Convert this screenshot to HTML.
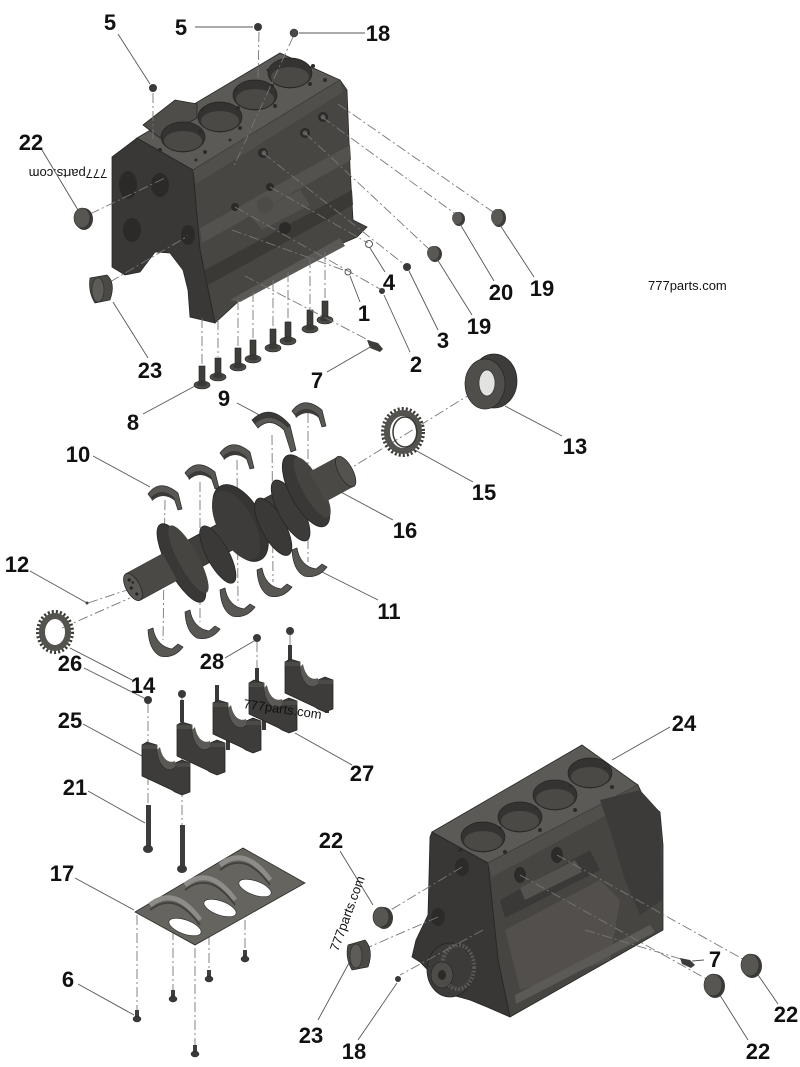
<!DOCTYPE html>
<html><head><meta charset="utf-8"><style>
html,body{margin:0;padding:0;background:#fff;}
svg{display:block;}
.l{font-family:"Liberation Sans",sans-serif;font-weight:bold;font-size:22px;fill:#111;text-anchor:middle;}
.w{font-family:"Liberation Sans",sans-serif;font-size:13px;fill:#111;}
.ld{stroke:#555;stroke-width:0.9;fill:none;}
.dd{stroke:#777;stroke-width:0.9;fill:none;stroke-dasharray:10 3 2 3;}
.e{stroke:#262624;stroke-width:0.8;}
</style></head><body>
<svg width="800" height="1067" viewBox="0 0 800 1067" xmlns="http://www.w3.org/2000/svg">
<defs>
<g id="cap">
<path d="M0,3 L5,0 L15,3 L15,8 C17,26 27,31 33,25 L33,21 L40,18 L48,21 L48,50 L40,53 L33,50 L30,48 L0,34 Z" fill="#3d3c3a" stroke="#242422" stroke-width="0.8"/>
<path d="M15,8 C17,26 27,31 33,25 L33,19 C26,22 20,16 18,5 Z" fill="#5b5955"/>
<rect x="0" y="3" width="15" height="4" fill="#4b4a47"/>
<rect x="33" y="21" width="15" height="4" fill="#4b4a47"/>
</g>
<g id="ush">
<path d="M0,11 Q12,-5 30,10 L34,26 L30,27 L26,15 Q14,4 3,15 Z" fill="#595753" stroke="#2a2a28" stroke-width="0.7"/>
<path d="M3,15 Q14,4 26,15 L27,18 Q15,8 4,18 Z" fill="#3c3b39"/>
</g>
<g id="lsh">
<path d="M0,2 L5,0 Q8,18 24,21 L30,16 L35,19 Q26,31 12,28 Q1,22 0,2 Z" fill="#595753" stroke="#2a2a28" stroke-width="0.7"/>
</g>
<g id="bolt">
<rect x="-3" y="-20" width="6" height="18" fill="#3f3e3b" stroke="#222" stroke-width="0.6"/>
<ellipse cx="0" cy="-1" rx="8" ry="4" fill="#4d4c48" stroke="#222" stroke-width="0.6"/>
<ellipse cx="0" cy="-2" rx="5" ry="2.5" fill="#3a3937"/>
</g>
<g id="sb">
<rect x="-2" y="-10" width="4" height="9" fill="#3f3e3b"/>
<ellipse cx="0" cy="-1" rx="4" ry="3" fill="#3a3937" stroke="#222" stroke-width="0.5"/>
</g>
</defs>

<!-- ============ TOP BLOCK ============ -->
<polygon class="e" points="193,170 340,80 347,90 350,167 353,220 367,227 357,237 320,253 240,300 215,323 200,250" fill="#474643"/>
<polygon class="e" points="112,157 137,138 193,170 200,250 215,323 190,317 188,290 183,270 170,253 155,252 140,272 125,275 112,267" fill="#393836"/>
<polygon class="e" points="137,138 280,53 340,80 193,170" fill="#5b5a56"/>
<polygon points="193,170 340,80 343,92 196,184" fill="#504f4b"/>
<polygon points="143,125 175,100 197,104 197,118 160,138" fill="#4e4d49" class="e"/>
<polygon points="200,228 350,145 351,160 202,243" fill="#53524e"/>
<polygon points="205,270 352,190 353,205 208,285" fill="#3a3936"/>
<polygon points="230,300 340,238 345,246 240,302" fill="#5a5955"/>
<polygon points="250,215 300,190 310,205 262,230" fill="#52514d"/>
<ellipse cx="183" cy="137" rx="22" ry="15" fill="#343331" stroke="#222" stroke-width="0.7"/>
<ellipse cx="183" cy="141" rx="19" ry="10" fill="#4a4946"/>
<ellipse cx="220" cy="117" rx="22" ry="15" fill="#343331" stroke="#222" stroke-width="0.7"/>
<ellipse cx="220" cy="121" rx="19" ry="10" fill="#4a4946"/>
<ellipse cx="255" cy="95" rx="22" ry="15" fill="#343331" stroke="#222" stroke-width="0.7"/>
<ellipse cx="255" cy="99" rx="19" ry="10" fill="#4a4946"/>
<ellipse cx="290" cy="73" rx="22" ry="15" fill="#343331" stroke="#222" stroke-width="0.7"/>
<ellipse cx="290" cy="77" rx="19" ry="10" fill="#4a4946"/>
<g fill="#2c2b29">
<circle cx="160" cy="150" r="2"/><circle cx="205" cy="152" r="2"/><circle cx="200" cy="132" r="2"/><circle cx="238" cy="108" r="2"/><circle cx="240" cy="128" r="2"/><circle cx="272" cy="86" r="2"/><circle cx="275" cy="106" r="2"/><circle cx="310" cy="84" r="2"/><circle cx="313" cy="66" r="2"/><circle cx="202" cy="110" r="1.5"/><circle cx="236" cy="90" r="1.5"/><circle cx="268" cy="70" r="1.5"/><circle cx="325" cy="80" r="2"/><circle cx="196" cy="160" r="1.5"/><circle cx="230" cy="140" r="1.5"/>
</g>
<g fill="#2b2a28">
<ellipse cx="160" cy="185" rx="9" ry="12"/><ellipse cx="128" cy="185" rx="9" ry="14"/><ellipse cx="132" cy="230" rx="9" ry="12"/><ellipse cx="188" cy="235" rx="7" ry="10"/>
<circle cx="323" cy="117" r="5"/><circle cx="305" cy="133" r="5"/><circle cx="263" cy="153" r="5"/><circle cx="270" cy="187" r="4"/><circle cx="235" cy="207" r="4"/><circle cx="285" cy="228" r="6"/>
</g>
<g fill="#5c5b57"><circle cx="264" cy="153" r="2.5"/><circle cx="305" cy="133" r="2.5"/><circle cx="323" cy="117" r="2.5"/><circle cx="265" cy="205" r="8" fill="#4c4b47"/></g>

<!-- top block bolts -->
<g class="dd">
<line x1="202" y1="318" x2="202" y2="365"/><line x1="218" y1="320" x2="218" y2="357"/>
<line x1="238" y1="300" x2="238" y2="347"/><line x1="253" y1="292" x2="253" y2="339"/>
<line x1="273" y1="280" x2="273" y2="328"/><line x1="288" y1="272" x2="288" y2="322"/>
<line x1="310" y1="258" x2="310" y2="309"/><line x1="325" y1="252" x2="325" y2="300"/>
</g>
<use href="#bolt" x="202" y="386"/><use href="#bolt" x="218" y="378"/>
<use href="#bolt" x="238" y="368"/><use href="#bolt" x="253" y="360"/>
<use href="#bolt" x="273" y="349"/><use href="#bolt" x="288" y="342"/>
<use href="#bolt" x="310" y="330"/><use href="#bolt" x="325" y="321"/>

<!-- top plugs and leaders -->
<g class="dd">
<line x1="153" y1="93" x2="153" y2="142"/>
<line x1="259" y1="32" x2="258" y2="80"/>
<line x1="293" y1="37" x2="234" y2="166"/>
<line x1="90" y1="214" x2="165" y2="178"/>
<line x1="110" y1="282" x2="188" y2="236"/>
<line x1="322" y1="117" x2="457" y2="215"/>
<line x1="338" y1="104" x2="493" y2="212"/>
<line x1="305" y1="133" x2="430" y2="250"/>
<line x1="263" y1="153" x2="405" y2="265"/>
<line x1="270" y1="187" x2="368" y2="243"/>
<line x1="235" y1="207" x2="380" y2="289"/>
<line x1="232" y1="230" x2="346" y2="271"/>
<line x1="245" y1="276" x2="372" y2="342"/>
</g>
<circle cx="153" cy="88" r="4" fill="#3a3937"/>
<circle cx="258" cy="27" r="4" fill="#3a3937"/>
<circle cx="294" cy="33" r="4" fill="#4a4946" stroke="#222" stroke-width="0.5"/>
<ellipse cx="84" cy="219" rx="9" ry="11" fill="#3b3a38"/>
<ellipse cx="82" cy="218" rx="8" ry="10" fill="#585652" stroke="#2a2a28" stroke-width="0.6"/>
<path d="M90,278 L107,275 Q116,283 110,300 L95,303 Q88,292 90,278 Z" fill="#4a4946" stroke="#262624" stroke-width="0.7"/>
<ellipse cx="98" cy="290" rx="6" ry="12" fill="#5e5c58" stroke="#2a2a28" stroke-width="0.6"/>
<ellipse cx="459" cy="219" rx="6" ry="7" fill="#3d3c3a"/><ellipse cx="457" cy="218" rx="5" ry="6" fill="#5a5854"/>
<ellipse cx="499" cy="218" rx="7" ry="9" fill="#3d3c3a"/><ellipse cx="497" cy="217" rx="6" ry="8" fill="#5a5854"/>
<ellipse cx="435" cy="254" rx="7" ry="8" fill="#3d3c3a"/><ellipse cx="433" cy="253" rx="6" ry="7" fill="#5a5854"/>
<circle cx="407" cy="267" r="4" fill="#3a3937"/>
<circle cx="382" cy="291" r="3" fill="#3a3937"/>
<circle cx="369" cy="244" r="3.5" fill="none" stroke="#555" stroke-width="1"/>
<circle cx="348" cy="272" r="3" fill="none" stroke="#555" stroke-width="1"/>
<path d="M367,340 L378,343 L383,349 L380,352 L370,348 Z" fill="#3d3c3a"/>
<g class="ld">
<line x1="118" y1="34" x2="150" y2="84"/>
<line x1="195" y1="27" x2="253" y2="27"/>
<line x1="299" y1="33" x2="365" y2="33"/>
<line x1="42" y1="150" x2="78" y2="210"/>
<line x1="113" y1="302" x2="148" y2="358"/>
<line x1="460" y1="224" x2="494" y2="281"/>
<line x1="500" y1="225" x2="534" y2="277"/>
<line x1="437" y1="259" x2="472" y2="315"/>
<line x1="409" y1="271" x2="438" y2="330"/>
<line x1="370" y1="248" x2="385" y2="272"/>
<line x1="384" y1="295" x2="410" y2="352"/>
<line x1="350" y1="276" x2="360" y2="302"/>
<line x1="372" y1="346" x2="327" y2="372"/>
<line x1="195" y1="386" x2="143" y2="414"/>
<line x1="237" y1="403" x2="265" y2="418"/>
<line x1="505" y1="406" x2="562" y2="436"/>
<line x1="415" y1="450" x2="473" y2="482"/>
<line x1="93" y1="456" x2="150" y2="487"/>
<line x1="337" y1="490" x2="393" y2="520"/>
<line x1="30" y1="571" x2="87" y2="603"/>
<line x1="322" y1="572" x2="378" y2="600"/>
<line x1="84" y1="668" x2="146" y2="699"/>
<line x1="70" y1="648" x2="132" y2="680"/>
<line x1="225" y1="658" x2="254" y2="641"/>
<line x1="83" y1="724" x2="142" y2="756"/>
<line x1="295" y1="733" x2="352" y2="765"/>
<line x1="88" y1="791" x2="145" y2="823"/>
<line x1="670" y1="727" x2="612" y2="760"/>
<line x1="75" y1="878" x2="134" y2="910"/>
<line x1="340" y1="851" x2="373" y2="905"/>
<line x1="78" y1="984" x2="134" y2="1015"/>
<line x1="318" y1="1020" x2="349" y2="963"/>
<line x1="358" y1="1040" x2="397" y2="983"/>
<line x1="692" y1="961" x2="704" y2="960"/>
<line x1="756" y1="972" x2="778" y2="1004"/>
<line x1="718" y1="992" x2="748" y2="1040"/>
</g>

<!-- ============ CRANK AREA ============ -->
<g class="dd">
<line x1="343" y1="473" x2="490" y2="382"/>
<line x1="88" y1="603" x2="130" y2="589"/>
<line x1="62" y1="628" x2="130" y2="598"/>
<line x1="165" y1="500" x2="163" y2="640"/>
<line x1="200" y1="482" x2="200" y2="622"/>
<line x1="237" y1="460" x2="238" y2="602"/>
<line x1="272" y1="435" x2="273" y2="582"/>
<line x1="308" y1="413" x2="308" y2="562"/>
</g>
<use href="#ush" x="148" y="483"/>
<use href="#ush" x="185" y="462"/>
<use href="#ush" x="220" y="442"/>
<use href="#ush" x="292" y="400"/>
<path d="M252,420 Q270,402 290,425 L296,450 L291,452 L284,430 Q270,416 258,428 Z" fill="#5b5955" stroke="#2a2a28" stroke-width="0.7"/>
<path d="M252,420 Q270,402 290,425 L288,428 Q270,410 255,424 Z" fill="#3a3937"/>

<g transform="translate(133,587) rotate(-28.5)">
<rect x="0" y="-15" width="240" height="30" fill="#403f3c" stroke="#262624" stroke-width="0.8"/>
<ellipse cx="54" cy="2" rx="14" ry="44" fill="#393836" stroke="#252523" stroke-width="0.8"/>
<ellipse cx="62" cy="2" rx="10" ry="38" fill="#464542"/>
<ellipse cx="90" cy="12" rx="11" ry="32" fill="#3a3937" stroke="#252523" stroke-width="0.8"/>
<ellipse cx="125" cy="-5" rx="22" ry="42" fill="#363533" stroke="#252523" stroke-width="0.8"/>
<ellipse cx="120" cy="-5" rx="18" ry="38" fill="#3d3c3a"/>
<ellipse cx="152" cy="14" rx="12" ry="32" fill="#3a3937" stroke="#252523" stroke-width="0.8"/>
<ellipse cx="175" cy="8" rx="12" ry="34" fill="#3c3b39" stroke="#252523" stroke-width="0.8"/>
<ellipse cx="198" cy="-2" rx="16" ry="40" fill="#393836" stroke="#252523" stroke-width="0.8"/>
<ellipse cx="205" cy="-2" rx="10" ry="34" fill="#454441"/>
<rect x="210" y="-17" width="32" height="34" fill="#4a4946"/>
<ellipse cx="242" cy="0" rx="7" ry="17" fill="#55534f" stroke="#262624" stroke-width="0.7"/>
<rect x="0" y="-15" width="42" height="30" fill="#4a4946"/>
<ellipse cx="0" cy="0" rx="7" ry="15" fill="#5a5854" stroke="#262624" stroke-width="0.8"/>
<circle cx="0" cy="-8" r="1.6" fill="#222"/><circle cx="0" cy="8" r="1.6" fill="#222"/><circle cx="-2" cy="0" r="1.6" fill="#222"/><circle cx="2" cy="-4" r="1.2" fill="#222"/>
</g>

<use href="#lsh" x="148" y="628"/>
<use href="#lsh" x="185" y="610"/>
<use href="#lsh" x="220" y="588"/>
<use href="#lsh" x="257" y="568"/>
<use href="#lsh" x="292" y="548"/>

<!-- gear 15 -->
<ellipse cx="403" cy="432" rx="20" ry="23" fill="none" stroke="#3b3a38" stroke-width="4" stroke-dasharray="2 2"/>
<ellipse cx="403" cy="432" rx="16" ry="19" fill="none" stroke="#55534f" stroke-width="6"/>
<ellipse cx="405" cy="432" rx="12" ry="15" fill="none" stroke="#3a3937" stroke-width="1.5"/>
<!-- seal 13 -->
<ellipse cx="494" cy="381" rx="23" ry="27" fill="#3d3c3a" stroke="#262624" stroke-width="0.7"/>
<ellipse cx="485" cy="384" rx="20" ry="25" fill="#4f4e4a" stroke="#262624" stroke-width="0.7"/>
<ellipse cx="487" cy="383" rx="8" ry="13" fill="#e2e2e0" stroke="#333" stroke-width="0.7"/>
<!-- gear 26 -->
<ellipse cx="55" cy="632" rx="17" ry="20" fill="none" stroke="#3b3a38" stroke-width="4" stroke-dasharray="2 2"/>
<ellipse cx="55" cy="632" rx="13" ry="16" fill="none" stroke="#55534f" stroke-width="6"/>
<circle cx="87" cy="603" r="1.5" fill="#444"/>

<!-- ============ CAPS ============ -->
<g class="dd">
<line x1="148" y1="703" x2="148" y2="835"/>
<line x1="182" y1="697" x2="182" y2="855"/>
<line x1="257" y1="642" x2="257" y2="678"/>
<line x1="290" y1="635" x2="290" y2="660"/>
</g>
<g fill="#3a3937">
<rect x="180" y="700" width="4" height="22"/><rect x="215" y="685" width="4" height="18"/>
<rect x="255" y="668" width="4" height="15"/><rect x="288" y="645" width="4" height="16"/>
<rect x="226" y="730" width="4" height="20"/><rect x="262" y="712" width="4" height="18"/><rect x="325" y="693" width="4" height="20"/>
</g>
<use href="#cap" x="285" y="659"/>
<use href="#cap" x="249" y="680"/>
<use href="#cap" x="213" y="700"/>
<use href="#cap" x="177" y="722"/>
<use href="#cap" x="142" y="742"/>
<circle cx="148" cy="700" r="4" fill="#3a3937"/>
<circle cx="182" cy="694" r="4" fill="#3a3937"/>
<circle cx="257" cy="638" r="4" fill="#3a3937"/>
<circle cx="290" cy="631" r="4" fill="#3a3937"/>
<rect x="146" y="805" width="5" height="42" fill="#3d3c3a"/>
<ellipse cx="148" cy="849" rx="5" ry="4" fill="#3a3937"/>
<rect x="180" y="825" width="5" height="42" fill="#3d3c3a"/>
<ellipse cx="182" cy="869" rx="5" ry="4" fill="#3a3937"/>

<!-- ============ OIL PAN 17 ============ -->
<g class="dd">
<line x1="137" y1="915" x2="137" y2="1010"/>
<line x1="173" y1="930" x2="173" y2="990"/>
<line x1="209" y1="935" x2="209" y2="970"/>
<line x1="245" y1="920" x2="245" y2="950"/>
<line x1="195" y1="948" x2="195" y2="1045"/>
</g>
<polygon points="135,912 243,848 305,883 195,945" fill="#66645f" stroke="#2a2a28" stroke-width="0.8"/>
<path d="M150,905 Q175,885 200,920 M185,885 Q210,865 235,900 M220,865 Q245,845 270,880" stroke="#8e8c88" stroke-width="5" fill="none"/>
<path d="M150,910 Q175,890 200,925 M185,890 Q210,870 235,905 M220,870 Q245,850 270,885" stroke="#43423f" stroke-width="2" fill="none"/>
<ellipse cx="185" cy="927" rx="17" ry="7" transform="rotate(20 185 927)" fill="#fff" stroke="#333" stroke-width="0.7"/>
<ellipse cx="220" cy="908" rx="17" ry="7" transform="rotate(20 220 908)" fill="#fff" stroke="#333" stroke-width="0.7"/>
<ellipse cx="255" cy="888" rx="17" ry="7" transform="rotate(20 255 888)" fill="#fff" stroke="#333" stroke-width="0.7"/>
<use href="#sb" x="137" y="1020"/><use href="#sb" x="173" y="1000"/>
<use href="#sb" x="209" y="980"/><use href="#sb" x="245" y="960"/>
<use href="#sb" x="195" y="1055"/>

<!-- ============ BOTTOM BLOCK ============ -->
<polygon class="e" points="488,863 638,785 645,800 660,812 663,845 663,930 510,1017 498,960" fill="#464542"/>
<polygon class="e" points="430,837 432,832 488,863 498,960 510,1017 487,1007 470,1000 452,995 420,962 412,957 416,940 428,915" fill="#383735"/>
<polygon class="e" points="432,832 582,745 638,785 488,863" fill="#5b5a56"/>
<polygon points="488,863 638,785 640,797 492,877" fill="#504f4b"/>
<polygon points="600,800 640,790 660,812 662,900 640,915 625,880 610,830" fill="#3c3b39"/>
<polygon points="505,930 600,880 620,900 610,960 520,990" fill="#524f4c"/>
<polygon points="500,900 590,850 600,870 505,918" fill="#3a3937"/>
<polygon points="515,995 650,925 655,932 516,1004" fill="#5c5a56"/>
<polygon points="520,888 575,860 582,872 525,900" fill="#55534f"/>
<ellipse cx="483" cy="837" rx="22" ry="15" fill="#343331" stroke="#222" stroke-width="0.7"/>
<ellipse cx="483" cy="841" rx="19" ry="10" fill="#4a4946"/>
<ellipse cx="520" cy="817" rx="22" ry="15" fill="#343331" stroke="#222" stroke-width="0.7"/>
<ellipse cx="520" cy="821" rx="19" ry="10" fill="#4a4946"/>
<ellipse cx="555" cy="795" rx="22" ry="15" fill="#343331" stroke="#222" stroke-width="0.7"/>
<ellipse cx="555" cy="799" rx="19" ry="10" fill="#4a4946"/>
<ellipse cx="590" cy="773" rx="22" ry="15" fill="#343331" stroke="#222" stroke-width="0.7"/>
<ellipse cx="590" cy="777" rx="19" ry="10" fill="#4a4946"/>
<g fill="#2c2b29">
<circle cx="460" cy="850" r="2"/><circle cx="505" cy="852" r="2"/><circle cx="540" cy="830" r="2"/><circle cx="575" cy="810" r="2"/><circle cx="612" cy="787" r="2"/><circle cx="500" cy="828" r="1.5"/><circle cx="536" cy="808" r="1.5"/><circle cx="570" cy="786" r="1.5"/><circle cx="605" cy="768" r="1.5"/>
<ellipse cx="462" cy="867" rx="7" ry="9"/><ellipse cx="438" cy="917" rx="7" ry="9"/>
<ellipse cx="520" cy="875" rx="6" ry="8"/><ellipse cx="557" cy="855" rx="6" ry="8"/>
</g>
<ellipse cx="450" cy="970" rx="23" ry="27" fill="#3c3b39" stroke="#222" stroke-width="0.7"/>
<ellipse cx="458" cy="967" rx="16" ry="22" fill="none" stroke="#5a5854" stroke-width="4" stroke-dasharray="2 1.5"/>
<ellipse cx="442" cy="975" rx="11" ry="13" fill="#4d4c48" stroke="#222" stroke-width="0.6"/>
<ellipse cx="442" cy="975" rx="4" ry="5" fill="#2a2a28"/>

<g class="dd">
<line x1="462" y1="867" x2="384" y2="914"/>
<line x1="438" y1="917" x2="362" y2="950"/>
<line x1="483" y1="930" x2="400" y2="975"/>
<line x1="557" y1="855" x2="748" y2="962"/>
<line x1="520" y1="875" x2="712" y2="982"/>
<line x1="585" y1="930" x2="684" y2="960"/>
</g>
<ellipse cx="384" cy="918" rx="9" ry="11" fill="#3b3a38"/>
<ellipse cx="381" cy="917" rx="8" ry="10" fill="#585652" stroke="#2a2a28" stroke-width="0.6"/>
<path d="M348,945 L365,940 Q374,950 368,967 L352,970 Q345,958 348,945 Z" fill="#4a4946" stroke="#262624" stroke-width="0.7"/>
<ellipse cx="356" cy="956" rx="6" ry="12" fill="#5e5c58" stroke="#2a2a28" stroke-width="0.6"/>
<circle cx="398" cy="979" r="3" fill="#3a3937"/>
<path d="M680,958 L690,960 L695,965 L691,968 L682,964 Z" fill="#3d3c3a"/>
<ellipse cx="752" cy="966" rx="10" ry="12" fill="#3b3a38"/>
<ellipse cx="750" cy="965" rx="9" ry="11" fill="#585652" stroke="#2a2a28" stroke-width="0.6"/>
<ellipse cx="715" cy="986" rx="10" ry="12" fill="#3b3a38"/>
<ellipse cx="713" cy="985" rx="9" ry="11" fill="#585652" stroke="#2a2a28" stroke-width="0.6"/>

<!-- ============ LABELS ============ -->
<text class="l" x="110" y="30">5</text>
<text class="l" x="181" y="35">5</text>
<text class="l" x="378" y="41">18</text>
<text class="l" x="31" y="150">22</text>
<text class="l" x="501" y="300">20</text>
<text class="l" x="542" y="296">19</text>
<text class="l" x="389" y="290">4</text>
<text class="l" x="364" y="321">1</text>
<text class="l" x="479" y="334">19</text>
<text class="l" x="443" y="348">3</text>
<text class="l" x="416" y="372">2</text>
<text class="l" x="150" y="378">23</text>
<text class="l" x="317" y="388">7</text>
<text class="l" x="133" y="430">8</text>
<text class="l" x="224" y="406">9</text>
<text class="l" x="575" y="454">13</text>
<text class="l" x="78" y="462">10</text>
<text class="l" x="484" y="500">15</text>
<text class="l" x="405" y="538">16</text>
<text class="l" x="17" y="572">12</text>
<text class="l" x="389" y="619">11</text>
<text class="l" x="70" y="671">26</text>
<text class="l" x="212" y="669">28</text>
<text class="l" x="143" y="693">14</text>
<text class="l" x="70" y="728">25</text>
<text class="l" x="684" y="731">24</text>
<text class="l" x="362" y="781">27</text>
<text class="l" x="75" y="795">21</text>
<text class="l" x="62" y="881">17</text>
<text class="l" x="331" y="848">22</text>
<text class="l" x="68" y="987">6</text>
<text class="l" x="715" y="967">7</text>
<text class="l" x="311" y="1043">23</text>
<text class="l" x="354" y="1059">18</text>
<text class="l" x="786" y="1022">22</text>
<text class="l" x="758" y="1059">22</text>

<text class="w" x="68" y="173" text-anchor="middle" transform="rotate(180 68 173)" dy="4">777parts.com</text>
<text class="w" x="648" y="290" font-size="12">777parts.com</text>
<text class="w" x="243" y="708" font-size="14" transform="rotate(8 243 708)">777parts.com</text>
<text class="w" x="338" y="952" font-size="14" transform="rotate(-70 338 952)">777parts.com</text>
</svg>
</body></html>
